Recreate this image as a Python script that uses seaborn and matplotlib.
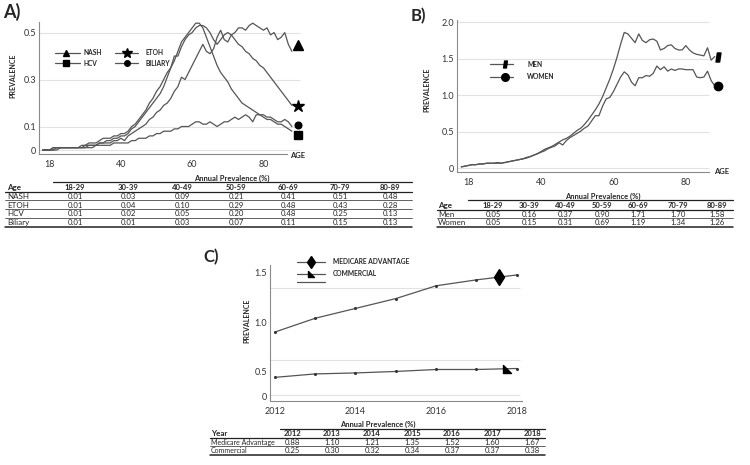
import numpy as np
import pandas as pd
import seaborn as sns
import matplotlib.pyplot as plt
from matplotlib.lines import Line2D
from matplotlib.path import Path

# ---------------- data ----------------
ages = list(range(18, 89))

nash = [0.00, 0.00, 0.00, 0.01, 0.01, 0.01, 0.01, 0.01, 0.01, 0.01, 0.01, 0.01,
        0.02, 0.02, 0.02, 0.02, 0.03, 0.03, 0.03, 0.03, 0.04, 0.04,
        0.05, 0.04, 0.06, 0.07, 0.08, 0.09, 0.10, 0.11, 0.13, 0.14,
        0.16, 0.17, 0.19, 0.20, 0.22, 0.25, 0.27, 0.31, 0.30, 0.33,
        0.36, 0.39, 0.42, 0.45, 0.42, 0.41, 0.43, 0.48, 0.51, 0.47,
        0.46, 0.49, 0.50, 0.52, 0.52, 0.51, 0.53, 0.54, 0.53, 0.52,
        0.51, 0.52, 0.49, 0.50, 0.47, 0.48, 0.50, 0.45, 0.42]
etoh = [0.00, 0.00, 0.00, 0.01, 0.01, 0.01, 0.01, 0.01, 0.01, 0.01, 0.01, 0.02,
        0.02, 0.03, 0.03, 0.03, 0.04, 0.05, 0.05, 0.05, 0.06, 0.06,
        0.07, 0.07, 0.08, 0.10, 0.11, 0.13, 0.15, 0.17, 0.20, 0.22,
        0.25, 0.27, 0.30, 0.33, 0.35, 0.40, 0.40, 0.44, 0.47, 0.49,
        0.50, 0.52, 0.53, 0.53, 0.52, 0.50, 0.47, 0.45, 0.47, 0.49,
        0.50, 0.49, 0.47, 0.45, 0.44, 0.42, 0.41, 0.39, 0.38, 0.36,
        0.35, 0.33, 0.31, 0.29, 0.27, 0.25, 0.23, 0.21, 0.19]
hcv = [0.00, 0.00, 0.00, 0.00, 0.01, 0.01, 0.01, 0.01, 0.01, 0.01, 0.01, 0.01,
       0.01, 0.02, 0.02, 0.02, 0.03, 0.03, 0.04, 0.04, 0.05, 0.05,
       0.06, 0.06, 0.07, 0.09, 0.10, 0.12, 0.14, 0.16, 0.18, 0.20,
       0.22, 0.24, 0.27, 0.31, 0.35, 0.38, 0.42, 0.46, 0.48, 0.50,
       0.52, 0.54, 0.54, 0.52, 0.48, 0.44, 0.40, 0.36, 0.33, 0.31,
       0.29, 0.26, 0.24, 0.22, 0.20, 0.19, 0.18, 0.17, 0.16, 0.15,
       0.14, 0.13, 0.13, 0.12, 0.11, 0.11, 0.10, 0.09, 0.08]
biliary = [0.00, 0.00, 0.00, 0.00, 0.00, 0.01, 0.01, 0.01, 0.01, 0.01, 0.01, 0.01,
           0.01, 0.01, 0.01, 0.02, 0.02, 0.02, 0.02, 0.02, 0.03, 0.03,
           0.03, 0.03, 0.03, 0.04, 0.04, 0.05, 0.05, 0.05, 0.06, 0.06,
           0.07, 0.07, 0.08, 0.08, 0.08, 0.09, 0.09, 0.10, 0.10, 0.10,
           0.11, 0.12, 0.12, 0.11, 0.11, 0.12, 0.11, 0.10, 0.11, 0.12,
           0.12, 0.13, 0.14, 0.13, 0.14, 0.15, 0.14, 0.12, 0.15, 0.15,
           0.15, 0.14, 0.14, 0.13, 0.12, 0.12, 0.13, 0.12, 0.10]

men = [0.02, 0.03, 0.04, 0.05, 0.05, 0.06, 0.06, 0.07, 0.07, 0.07, 0.08, 0.07,
       0.08, 0.09, 0.10, 0.11, 0.12, 0.13, 0.14, 0.16, 0.18, 0.20,
       0.23, 0.26, 0.28, 0.30, 0.33, 0.36, 0.39, 0.41, 0.44, 0.48,
       0.52, 0.55, 0.60, 0.66, 0.73, 0.80, 0.88, 0.98, 1.10, 1.22,
       1.36, 1.52, 1.70, 1.86, 1.84, 1.78, 1.72, 1.84, 1.75, 1.72,
       1.76, 1.77, 1.74, 1.62, 1.64, 1.68, 1.69, 1.64, 1.62, 1.62,
       1.68, 1.62, 1.58, 1.56, 1.55, 1.54, 1.65, 1.48, 1.53]
women = [0.02, 0.03, 0.04, 0.05, 0.05, 0.06, 0.06, 0.07, 0.07, 0.07, 0.07, 0.07,
         0.08, 0.09, 0.10, 0.11, 0.12, 0.13, 0.15, 0.16, 0.18, 0.20,
         0.22, 0.24, 0.27, 0.29, 0.31, 0.35, 0.32, 0.38, 0.42, 0.45,
         0.48, 0.51, 0.55, 0.58, 0.65, 0.72, 0.72, 0.85, 0.95, 0.97,
         1.05, 1.15, 1.25, 1.32, 1.28, 1.18, 1.13, 1.24, 1.24, 1.27,
         1.26, 1.30, 1.40, 1.35, 1.39, 1.33, 1.36, 1.34, 1.36, 1.36,
         1.35, 1.35, 1.35, 1.25, 1.24, 1.25, 1.33, 1.20, 1.13]

years = [2012, 2013, 2014, 2015, 2016, 2017, 2018]
medicare_line = [0.90, 1.04, 1.14, 1.24, 1.37, 1.43, 1.48]
commercial_line = [0.38, 0.45, 0.47, 0.50, 0.52, 0.52, 0.53]

# end-of-line symbols
a_end_x = 89.8
a_end_y = [0.445, 0.186, 0.063, 0.105]   # NASH, ETOH, HCV, Biliary
b_end_x = 88.9
b_end_y = [1.52, 1.12]                   # men, women
c_end_x = [2017.56, 2017.75]
c_end_y = [1.456, 0.53]

# tables
age_bins = ["18-29", "30-39", "40-49", "50-59", "60-69", "70-79", "80-89"]
tab_a_rows = ["NASH", "ETOH", "HCV", "Biliary"]
tab_a_vals = [[0.01, 0.03, 0.09, 0.21, 0.41, 0.51, 0.48],
              [0.01, 0.04, 0.10, 0.29, 0.48, 0.43, 0.28],
              [0.01, 0.02, 0.05, 0.20, 0.48, 0.25, 0.13],
              [0.01, 0.01, 0.03, 0.07, 0.11, 0.15, 0.13]]
tab_b_rows = ["Men", "Women"]
tab_b_vals = [[0.05, 0.16, 0.37, 0.90, 1.71, 1.70, 1.58],
              [0.05, 0.15, 0.31, 0.69, 1.19, 1.34, 1.26]]
tab_c_cols = ["2012", "2013", "2014", "2015", "2016", "2017", "2018"]
tab_c_rows = ["Medicare Advantage", "Commercial"]
tab_c_vals = [[0.88, 1.10, 1.21, 1.35, 1.52, 1.60, 1.67],
              [0.25, 0.30, 0.32, 0.34, 0.37, 0.37, 0.38]]

# ---------------- style ----------------
sns.set_theme(style="white")
plt.rcParams["font.family"] = ["Lato", "DejaVu Sans"]

W, H = 750, 465
LINE = "#555555"
GRID = "#e2e2e2"
SPINE = "#8a8a8a"

fig = plt.figure(figsize=(W / 100, H / 100), dpi=100)


def rect(l, t, r, b):
    return [l / W, 1 - b / H, (r - l) / W, (b - t) / H]


def fx(x):
    return x / W


def fy(y):
    return 1 - y / H


def hline(x0, x1, y, lw=0.6, color="#222222"):
    fig.add_artist(Line2D([fx(x0), fx(x1)], [fy(y), fy(y)],
                          transform=fig.transFigure, color=color, lw=lw))


def legend_item(x0, x1, xm, y, marker, ms, label, tx):
    fig.add_artist(Line2D([fx(x0), fx(x1)], [fy(y), fy(y)],
                          transform=fig.transFigure, color=LINE, lw=0.9))
    if marker is not None:
        fig.add_artist(Line2D([fx(xm)], [fy(y)], transform=fig.transFigure,
                              marker=marker, ms=ms, color="black", lw=0))
    if label:
        fig.text(fx(tx), fy(y), label, fontsize=4.8, fontweight="bold",
                 va="center", ha="left")


def style_axes(ax):
    sns.despine(ax=ax)
    for s in ["left", "bottom"]:
        ax.spines[s].set_color(SPINE)
        ax.spines[s].set_linewidth(0.8)
    ax.tick_params(axis="both", labelsize=6.5, colors="#333333", pad=2)
    ax.tick_params(axis="x", length=2, width=0.6, color=SPINE)
    ax.tick_params(axis="y", length=0)
    ax.set_xlabel("")
    ax.set_ylabel("")


def draw_table(first, cols, rows, vals, left, right, title_left, title_x,
               label_x, col_x, title_y, dy, label_size=5.8):
    fig.text(fx(title_x), fy(title_y), "Annual Prevalence (%)", fontsize=5.5,
             fontweight="bold", ha="center", va="center")
    hline(title_left, right, title_y + 4.5, lw=0.9)
    hy = title_y + 9.5
    fig.text(fx(label_x), fy(hy), first, fontsize=5.8, fontweight="bold",
             ha="left", va="center")
    for c, x in zip(cols, col_x):
        fig.text(fx(x), fy(hy), c, fontsize=5.5, fontweight="bold",
                 ha="center", va="center")
    hline(left, right, hy + 4.2, lw=0.9)
    for i, (name, row) in enumerate(zip(rows, vals)):
        y = hy + dy * (i + 1)
        fig.text(fx(label_x), fy(y), name, fontsize=label_size, ha="left",
                 va="center")
        for v, x in zip(row, col_x):
            fig.text(fx(x), fy(y), f"{v:.2f}", fontsize=5.6, ha="center",
                     va="center")
        last = i == len(rows) - 1
        hline(left, right, y + 4.2, lw=1.1 if last else 0.5)


# ---------------- panel A ----------------
axA = fig.add_axes(rect(39, 22, 304, 154))
dfA = pd.DataFrame({
    "age": ages * 4,
    "prev": nash + etoh + hcv + biliary,
    "grp": ["NASH"] * 71 + ["ETOH"] * 71 + ["HCV"] * 71 + ["Biliary"] * 71,
})
axA.hlines([0, 0.1, 0.3, 0.5], 17.0, 90.3, color=GRID, lw=0.8, zorder=0)
sns.lineplot(data=dfA, x="age", y="prev", hue="grp", palette=[LINE] * 4,
             linewidth=0.9, legend=False, ax=axA)
for m, ms, y in zip(["^", "*", "s", "o"], [7.5, 9, 5.5, 4.8], a_end_y):
    axA.plot([a_end_x], [y], marker=m, ms=ms, color="black", lw=0,
             clip_on=False)
axA.set_xlim(17.0, 91.4)
axA.set_ylim(-0.017, 0.545)
axA.set_xticks([20, 40, 60, 80], ["18", "40", "60", "80"])
axA.set_yticks([0, 0.1, 0.3, 0.5], ["0", "0.1", "0.3", "0.5"])
style_axes(axA)
axA.spines["bottom"].set_bounds(17.0, 86.5)
fig.text(fx(3), fy(12), "A)", fontsize=13, fontweight="bold", va="center")
fig.text(fx(13), fy(76), "PREVALENCE", fontsize=5, fontweight="bold",
         rotation=90, ha="center", va="center")
fig.text(fx(290), fy(155), "AGE", fontsize=5.5, fontweight="bold",
         ha="left", va="center")
legend_item(55, 80, 66, 52.7, "^", 5, "NASH", 84)
legend_item(55, 80, 66, 63.3, "s", 4.5, "HCV", 84)
legend_item(115, 138, 127, 52.7, "*", 7, "ETOH", 145)
legend_item(115, 138, 127, 63.3, "o", 4, "BILIARY", 145)

draw_table("Age", age_bins, tab_a_rows, tab_a_vals, 5, 412, 53, 232, 7,
           [75, 128, 182, 236, 288, 340, 390], 178, 8.8)

# ---------------- panel B ----------------
men_marker = Path([(-0.55, -1), (0.25, -1), (0.55, 1), (-0.25, 1), (-0.55, -1)],
                  [Path.MOVETO, Path.LINETO, Path.LINETO, Path.LINETO,
                   Path.CLOSEPOLY])
axB = fig.add_axes(rect(457, 20, 722, 172))
dfB = pd.DataFrame({"age": ages * 2, "prev": men + women,
                    "grp": ["MEN"] * 71 + ["WOMEN"] * 71})
axB.hlines([0, 0.5, 1.0, 1.5, 2.0], 16.8, 86.4, color=GRID, lw=0.8, zorder=0)
sns.lineplot(data=dfB, x="age", y="prev", hue="grp", palette=[LINE] * 2,
             linewidth=0.9, legend=False, ax=axB)
axB.plot([b_end_x], [b_end_y[0]], marker=men_marker, ms=6.5, color="black",
         lw=0, clip_on=False)
axB.plot([b_end_x], [b_end_y[1]], marker="o", ms=6, color="black", lw=0,
         clip_on=False)
axB.set_xlim(16.8, 90.0)
axB.set_ylim(-0.05, 2.03)
axB.set_xticks([20, 40, 60, 80], ["18", "40", "60", "80"])
axB.set_yticks([0, 0.5, 1.0, 1.5, 2.0], ["0", "0.5", "1.0", "1.5", "2.0"])
style_axes(axB)
axB.spines["bottom"].set_bounds(16.8, 86.4)
fig.text(fx(411), fy(16), "B)", fontsize=12, fontweight="bold", va="center")
fig.text(fx(427), fy(90), "PREVALENCE", fontsize=5, fontweight="bold",
         rotation=90, ha="center", va="center")
fig.text(fx(714), fy(172), "AGE", fontsize=5.5, fontweight="bold",
         ha="left", va="center")
legend_item(490, 513, 505, 64, men_marker, 5, "MEN", 527)
legend_item(490, 513, 505, 76.7, "o", 5.5, "WOMEN", 527)

draw_table("Age", age_bins, tab_b_rows, tab_b_vals, 437, 733, 468, 603, 438,
           [493, 529, 565, 602, 638, 678, 717], 196, 8.6)

# ---------------- panel C ----------------
def fwd(y):
    y = np.asarray(y, dtype=float)
    return np.where(y < 0.5, y * 0.5, y - 0.25)


def inv(f):
    f = np.asarray(f, dtype=float)
    return np.where(f < 0.25, f * 2, f + 0.25)


comm_marker = Path([(-1, 1), (-1, -1), (1, -1), (-1, 1)],
                   [Path.MOVETO, Path.LINETO, Path.LINETO, Path.CLOSEPOLY])
axC = fig.add_axes(rect(270, 265, 522, 401))
axC.set_yscale("function", functions=(fwd, inv))
dfC = pd.DataFrame({"year": years * 2, "prev": medicare_line + commercial_line,
                    "grp": ["MA"] * 7 + ["COM"] * 7})
axC.hlines([0.02, 0.62, 1.35], 2011.88, 2018.08, color=GRID, lw=0.8, zorder=0)
sns.lineplot(data=dfC, x="year", y="prev", hue="grp", palette=[LINE] * 2,
             linewidth=0.9, marker="o", markersize=2.2, markeredgewidth=0,
             legend=False, ax=axC)
for line in axC.lines:
    line.set_markerfacecolor("#333333")
axC.plot([c_end_x[0]], [c_end_y[0]], marker="d", ms=8.5, color="black",
         lw=0, clip_on=False)
axC.plot([c_end_x[1]], [c_end_y[1]], marker=comm_marker, ms=6, color="black",
         lw=0, clip_on=False)
axC.set_xlim(2011.88, 2018.13)
axC.set_ylim(-0.1, 1.581)
axC.set_xticks([2012, 2014, 2016, 2018], ["2012", "2014", "2016", "2018"])
axC.set_yticks([0, 0.5, 1.0, 1.5], ["0", "0.5", "1.0", "1.5"])
axC.yaxis.set_minor_locator(plt.NullLocator())
style_axes(axC)
fig.text(fx(203), fy(257), "C)", fontsize=12, fontweight="bold", va="center")
fig.text(fx(247), fy(321), "PREVALENCE", fontsize=5, fontweight="bold",
         rotation=90, ha="center", va="center")
legend_item(297, 325, 311, 261.7, "d", 6.5, "MEDICARE ADVANTAGE", 333)
legend_item(297, 325, 311, 274, comm_marker, 4.5, "COMMERCIAL", 333)
legend_item(297, 325, 311, 281.5, None, 0, "", 333)

draw_table("Year", tab_c_cols, tab_c_rows, tab_c_vals, 210, 545, 280, 378,
           211, [292, 332, 372, 412, 452, 492, 532], 424, 8.6, label_size=5.0)

fig.savefig("out.png", dpi=100)
